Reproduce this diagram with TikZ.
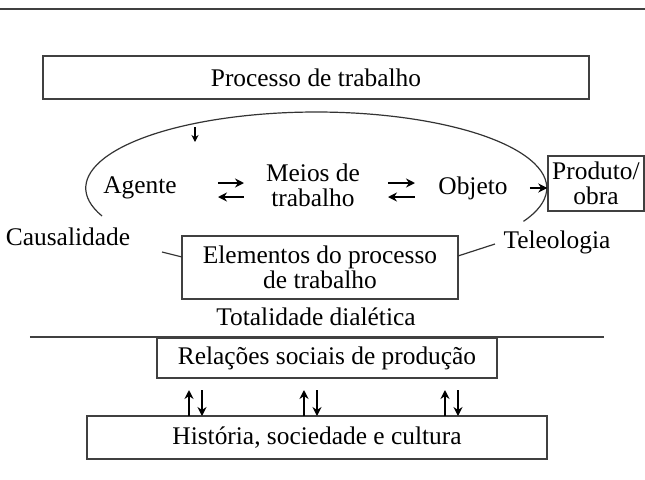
\documentclass[tikz,border=0pt]{standalone}
\usepackage{fontspec}
\setmainfont{Liberation Serif}
\usetikzlibrary{arrows.meta, positioning}

\begin{document}
\begin{tikzpicture}[x=0.5pt,y=0.5pt,
	font=\fontsize{12.7}{12.5}\selectfont,
	box/.style={draw=black!75,line width=0.7pt,align=center,inner sep=0pt},
	lbl/.style={align=center,inner sep=0pt},
	rule/.style={draw=black!75,line width=0.7pt},
	curve/.style={draw=black!80,line width=0.6pt},
	arr/.style={draw,line width=1pt,-{Stealth[length=4.5pt,width=4.5pt]}},
	tick/.style={draw,line width=0.8pt,-{Stealth[length=3.5pt,width=3.5pt]}}]
\useasboundingbox (0,0) rectangle (645,479);
% top rule and title box
\coordinate (r1a) at (0,470);
\coordinate (r1b) at (645,470);
\draw[rule] (r1a) -- (r1b);
\node[box,minimum width=273pt,minimum height=21.5pt] (proc) at (316,401.5) {Processo de trabalho};
% elements of the work process
\node[lbl] (agente) at (140,291) {Agente};
\node[lbl] (meios) at (313,293.5) {Meios de\\trabalho};
\node[lbl] (objeto) at (473,291) {Objeto};
\node[box,minimum width=48pt,minimum height=27.5pt] (produto) at (596,295.5) {Produto/\\obra};
\node[lbl] (causal) at (68,242) {Causalidade};
\node[lbl] (teleo) at (557,237) {Teleologia};
\node[box,minimum width=138pt,minimum height=31.5pt] (elem) at (320,211.5) {Elementos do processo\\de trabalho};
\node[lbl] (total) at (316,162) {Totalidade dialética};
% big arc
\coordinate (arcL) at (102,263);
\draw[curve] (arcL) arc[start angle=201.6,end angle=-26,x radius=115.25pt,y radius=38pt];
\coordinate (dtop) at (195,352);
\coordinate (dbot) at (195,337);
\draw[tick] (dtop) -- (dbot);
% two-way arrows
\coordinate (l1) at (218,296);
\coordinate (l2) at (244,296);
\coordinate (l3) at (244,282);
\coordinate (l4) at (218,282);
\draw[arr] (l1) -- (l2);
\draw[arr] (l3) -- (l4);
\coordinate (m1) at (388,296);
\coordinate (m2) at (415,296);
\coordinate (m3) at (415,282);
\coordinate (m4) at (388,282);
\draw[arr] (m1) -- (m2);
\draw[arr] (m3) -- (m4);
\coordinate (o1) at (530,291);
\draw[arr] (o1) -- (o1 -| produto.west);
% side strokes to the box
\coordinate (cl) at (162,227);
\coordinate (cl2) at (182,222);
\draw[curve] (cl) -- (cl2);
\coordinate (cr) at (458,223);
\coordinate (cr2) at (495,235);
\draw[curve] (cr) -- (cr2);
% lower part
\coordinate (r2a) at (30,142);
\coordinate (r2b) at (604,142);
\draw[rule] (r2a) -- (r2b);
\node[box,minimum width=170pt,minimum height=20pt] (rel) at (327,121) {Relações sociais de produção};
\node[box,minimum width=230pt,minimum height=21.5pt] (hist) at (317,41.5) {História, sociedade e cultura};
\foreach \ax [count=\i] in {189,304,445}{
	\coordinate (ua\i) at (\ax,63);
	\coordinate (ub\i) at (\ax,89);
	\draw[arr] (ua\i) -- (ub\i);
	\coordinate (da\i) at (\ax+13,89);
	\coordinate (db\i) at (\ax+13,63);
	\draw[arr] (da\i) -- (db\i);
}
\end{tikzpicture}
\end{document}
